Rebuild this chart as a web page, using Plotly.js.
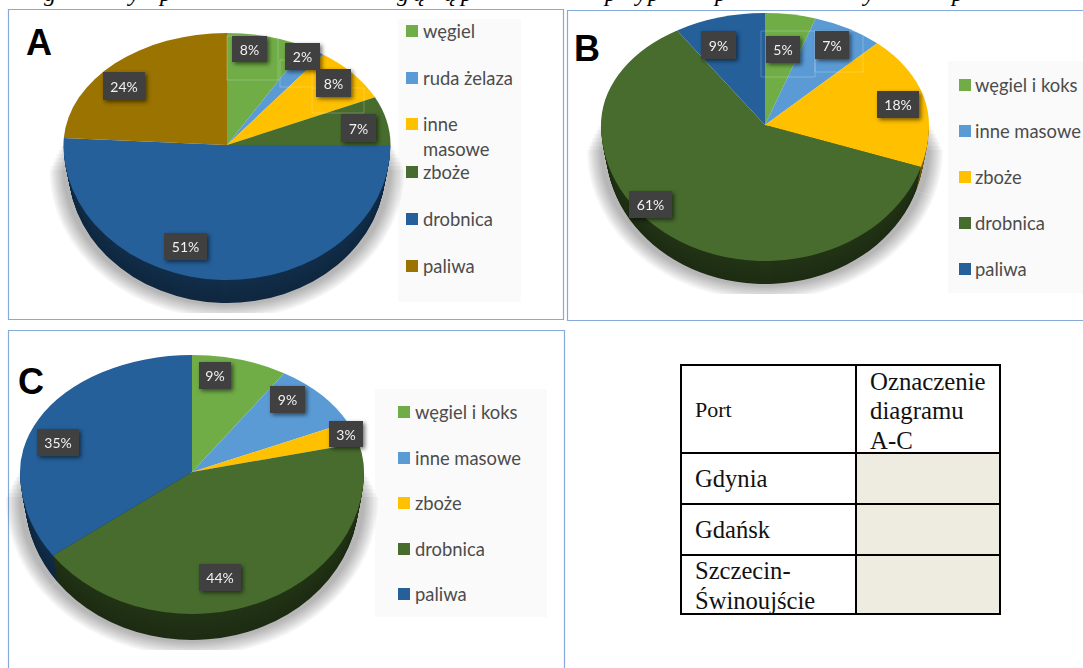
<!DOCTYPE html>
<html><head><meta charset="utf-8">
<script src="https://cdn.plot.ly/plotly-3.0.1.min.js"></script>
<style>html,body{margin:0;padding:0;background:#fff;overflow:hidden}#c{width:1083px;height:668px}</style>
</head><body><div id="c"></div>
<script>
// ---- data ----
const catsA = ['węgiel','ruda żelaza','inne masowe','zboże','drobnica','paliwa'];
const valsA = [8,2,8,7,51,24];
const catsB = ['węgiel i koks','inne masowe','zboże','drobnica','paliwa'];
const valsB = [5,7,18,61,9];
const catsC = ['węgiel i koks','inne masowe','zboże','drobnica','paliwa'];
const valsC = [9,9,3,44,35];
const tablePortHeader = 'Port';
const tableMarkHeader = ['Oznaczenie','diagramu','A-C'];
const tablePorts = [['Gdynia'],['Gdańsk'],['Szczecin-','Świnoujście']];
const captionGlyphs = ['g','y','p','g','ą','ą','p','p','y','p','p','y','p'];

// ---- styling / layout ----
const W=1083,H=668,RAWCY=H/2;
const PX=x=>x/W, PY=y=>1-y/H;
const colsA=['#70ad47','#5b9bd5','#ffc000','#486c2e','#26609a','#9a7300'];
const colsBC=['#70ad47','#5b9bd5','#ffc000','#486c2e','#26609a'];
const darken=(hex,f)=>{const n=parseInt(hex.slice(1),16);
 return `rgb(${Math.round((n>>16&255)*f)},${Math.round((n>>8&255)*f)},${Math.round((n&255)*f)})`};

const pies=[
 {cats:catsA,vals:valsA,cols:colsA, cx:227,cy:145,rx:163.5,up:112,lo:135,depth:23,
  boxes:[[232,267,36,62],[285,320,43,70],[316,351,69,97],[341,376,114,142],[164,207,233,260],[103,145,72,100]],
  legend:{bg:[398,521,19,302],sw:406,tx:423,ys:[31,78,124,172,219,266]}},
 {cats:catsB,vals:valsB,cols:colsBC,cx:765,cy:125,rx:164,up:112,lo:136,depth:23,
  boxes:[[766,800,36,63],[815,849,31,59],[877,919,91,118],[629,672,191,218],[701,736,31,59]],
  legend:{bg:[948,1083,61,293],sw:959,tx:975,ys:[85,131,177,223,269]}},
 {cats:catsC,vals:valsC,cols:colsBC,cx:192,cy:472,rx:172,up:117,lo:142,depth:26,
  boxes:[[199,231,362,389],[270,305,386,413],[329,363,421,447],[199,241,564,591],[37,79,429,456]],
  legend:{bg:[375,547,389,617],sw:398,tx:415,ys:[412,458,503,549,594]}}
];

const traces=[],xforms=[];
function layer(p,colors,sx,sy,tx,ty,band,extra){
 traces.push({type:'pie',values:p.vals,labels:p.cats,sort:false,direction:'clockwise',rotation:0,
  textinfo:'none',hoverinfo:'skip',showlegend:false,
  marker:{colors:colors,line:{width:0}},
  domain:{x:[PX(p.cx-p.rx),PX(p.cx+p.rx)],y:[(RAWCY-p.rx)/H,(RAWCY+p.rx)/H]}});
 xforms.push({transform:`translate(${tx},${ty}) scale(${sx},${sy}) translate(${-p.cx},${-RAWCY})`,
  band:band,cx:p.cx,r:p.rx,extra:extra||{}});
}
pies.forEach(p=>{
 // soft ground shadow: concentric translucent copies, cut flat below, fading out upward
 const bottom=p.cy+p.lo+p.depth+10;
 for(let k=0;k<10;k++){
  const e=14-k*1.5;
  layer(p,p.cols.map(()=>'rgba(0,0,0,0.03)'),(p.rx+e)/p.rx,(p.lo+e)/p.rx,p.cx,p.cy+p.depth+2,null,
   {clipTop:p.cy+25-k*4,clipBottom:bottom});
 }
 // side wall: stacked darker copies of the pie
 for(let i=p.depth;i>=1;i--){
  const t=i/p.depth, f=0.48-0.07*t;
  layer(p,p.cols.map(c=>darken(c,f)),1-0.03*t,p.lo/p.rx,p.cx,p.cy+i,'lower');
 }
 // top surface: near half is deeper than far half (perspective)
 layer(p,p.cols,1,p.lo/p.rx,p.cx,p.cy,'lower');
 layer(p,p.cols,1,p.up/p.rx,p.cx,p.cy,'upper');
});

const shapes=[],ann=[];
const rect=(x0,x1,y0,y1,o)=>shapes.push(Object.assign({type:'rect',xref:'paper',yref:'paper',
 x0:PX(x0),x1:PX(x1),y0:PY(y0),y1:PY(y1),line:{width:0}},o));
const text=(t,x,y,size,o)=>ann.push(Object.assign({text:t,xref:'paper',yref:'paper',x:PX(x),y:PY(y),
 xanchor:'left',yanchor:'middle',showarrow:false,borderpad:0,borderwidth:0,
 font:{family:'Lato',size:size,color:'#4c4c4c'}},o));

// panel frames
const frame={line:{color:'#85a9d8',width:1.2},fillcolor:'rgba(0,0,0,0)',layer:'below'};
rect(8.5,563.5,9.5,319.5,frame);
rect(567.5,1090,10.5,320.5,frame);
rect(8.5,564.5,330.5,680,frame);

// legends
const LEG=18.4;
pies.forEach((p,k)=>{
 const L=p.legend;
 rect(L.bg[0],L.bg[1],L.bg[2],L.bg[3],{fillcolor:'#fafafa',layer:'below'});
 p.cats.forEach((c,i)=>{
  rect(L.sw,L.sw+12,L.ys[i]-6,L.ys[i]+6,{fillcolor:p.cols[i]});
  if(k===0&&c==='inne masowe'){
   text('inne',L.tx,L.ys[i],LEG,{});
   text('masowe',L.tx,L.ys[i]+25,LEG,{});
  } else text(c,L.tx,L.ys[i],LEG,{});
 });
});

// faint leader frames
const leader={line:{color:'rgba(255,255,255,0.22)',width:1},fillcolor:'rgba(0,0,0,0)'};
rect(227,278,36,80,leader); rect(280,312,60,87,leader); rect(312,364,88,113,leader);
rect(761,815,31,77,leader); rect(815,863,31,72,leader);

// value labels
const boxShadowIdx=[];
pies.forEach(p=>p.vals.forEach((v,i)=>{
 const b=p.boxes[i];
 boxShadowIdx.push(ann.length);
 ann.push({text:v+'%',xref:'paper',yref:'paper',x:PX((b[0]+b[1])/2),y:PY((b[2]+b[3])/2),
  xanchor:'center',yanchor:'middle',showarrow:false,width:b[1]-b[0],height:b[3]-b[2],
  bgcolor:'#404040',borderpad:0,borderwidth:0,font:{family:'Lato',size:14,color:'#f2f2f2'}});
}));

// panel letters
[['A',26,42],['B',574,48],['C',18,381]].forEach(l=>
 text('<b>'+l[0]+'</b>',l[1],l[2],36,{font:{family:'Liberation Sans',size:36,color:'#000'}}));

// table
const serif=(s)=>({font:{family:'Liberation Serif',size:s,color:'#111'}});
const rowsY=[365,453,504,555,614], colsX=[681,856,1000];
for(let r=1;r<4;r++) rect(colsX[1],colsX[2],rowsY[r],rowsY[r+1],{fillcolor:'#eeebe0',layer:'below'});
const tl={line:{color:'#000',width:2},fillcolor:'rgba(0,0,0,0)'};
for(let r=0;r<4;r++){rect(colsX[0],colsX[1],rowsY[r],rowsY[r+1],tl);rect(colsX[1],colsX[2],rowsY[r],rowsY[r+1],tl);}
text(tablePortHeader,694.5,409,22,serif(22));
tableMarkHeader.forEach((t,i)=>text(t,869.5,381+i*29.5,24.8,serif(24.8)));
const portYs=[[478.5],[529.5],[570.5,600]];
tablePorts.forEach((lines,r)=>lines.forEach((t,i)=>text(t,694.5,portYs[r][i],24.6,serif(24.6))));

// descenders of the cropped caption at the very top edge
const glyphX=[50,133,165,403,419,450,466,610,640,653,720,868,957];
captionGlyphs.forEach((g,i)=>ann.push({text:'<i>'+g+'</i>',xref:'paper',yref:'paper',x:PX(glyphX[i]),y:1,yanchor:'bottom',yshift:-6,
 xanchor:'center',showarrow:false,font:{family:'Liberation Serif',size:24,color:'#000'},borderpad:0,borderwidth:0}));

Plotly.newPlot('c',traces,{width:W,height:H,margin:{l:0,r:0,t:0,b:0},paper_bgcolor:'#fff',plot_bgcolor:'#fff',
 showlegend:false,shapes:shapes,annotations:ann},{staticPlot:true,displayModeBar:false}).then(gd=>{
 const svg=gd.querySelector('.main-svg'), NS='http://www.w3.org/2000/svg';
 const defs=svg.querySelector('defs');
 const addClip=(id,x,y,w,h)=>{const cp=document.createElementNS(NS,'clipPath'),rc=document.createElementNS(NS,'rect');
  cp.setAttribute('id',id);rc.setAttribute('x',x);rc.setAttribute('y',y);rc.setAttribute('width',w);rc.setAttribute('height',h);
  cp.appendChild(rc);defs.appendChild(cp);};
 gd.querySelectorAll('.pielayer .trace').forEach((g,i)=>{
  const f=xforms[i];
  g.setAttribute('transform',f.transform);
  if(f.band){
   const id='pc'+i;
   if(f.band==='upper') addClip(id,f.cx-f.r-3,RAWCY-f.r-3,2*f.r+6,f.r+3.4);
   else addClip(id,f.cx-f.r-3,RAWCY,2*f.r+6,f.r+3);
   g.setAttribute('clip-path','url(#'+id+')');
  }
  if(f.extra.clipBottom){
   const id='ps'+i;
   addClip(id,0,f.extra.clipTop,W,f.extra.clipBottom-f.extra.clipTop);
   const wrap=document.createElementNS(NS,'g');
   g.parentNode.insertBefore(wrap,g);wrap.appendChild(g);
   wrap.setAttribute('clip-path','url(#'+id+')');
  }
 });
 const groups=gd.querySelectorAll('.annotation');
 boxShadowIdx.forEach(i=>{if(groups[i])groups[i].style.filter='drop-shadow(2px 2px 2px rgba(0,0,0,0.55))';});
});
</script></body></html>
